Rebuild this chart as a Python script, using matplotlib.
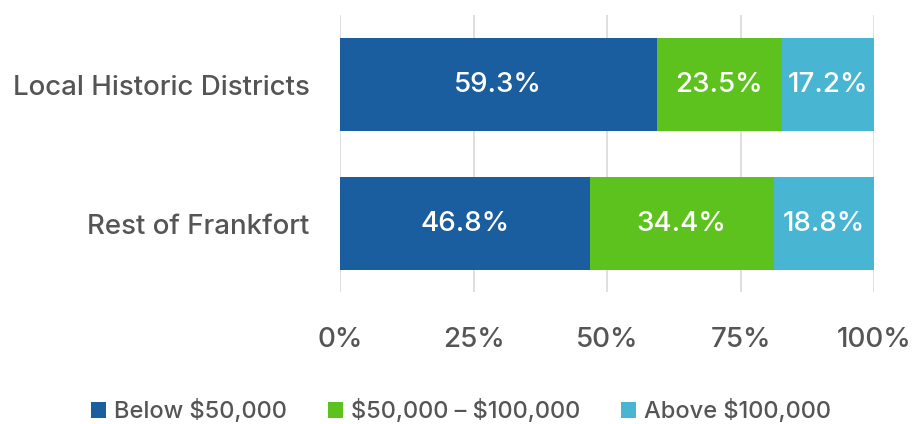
import matplotlib.pyplot as plt
from matplotlib.patches import Patch

categories = ["Local Historic Districts", "Rest of Frankfort"]
series_names = [r"Below \$50,000", r"\$50,000 – \$100,000", r"Above \$100,000"]
below_50k = [59.3, 46.8]
mid_50_100k = [23.5, 34.4]
above_100k = [17.2, 18.8]
x_ticks = [0, 25, 50, 75, 100]
x_tick_labels = ["0%", "25%", "50%", "75%", "100%"]

colors = ["#1B5EA0", "#5EC21E", "#48B6D3"]
text_gray = "#555555"

plt.rcParams["font.family"] = ["Inter", "DejaVu Sans"]
plt.rcParams["font.weight"] = "medium"

fig = plt.figure(figsize=(9.22, 4.24), dpi=100)
ax = fig.add_axes([340 / 922, 1 - 292 / 424, 534 / 922, 277 / 424])

y_pos = list(range(len(categories)))
left = [0] * len(categories)
for values, color in zip([below_50k, mid_50_100k, above_100k], colors):
    bars = ax.barh(y_pos, values, left=left, height=0.667, color=color, zorder=2)
    for bar, v in zip(bars, values):
        ax.text(bar.get_x() + bar.get_width() / 2, bar.get_y() + bar.get_height() / 2,
                f"{v:.1f}%", ha="center", va="center", color="white", fontsize=20)
    left = [l + v for l, v in zip(left, values)]

ax.set_xlim(0, 100)
ax.set_ylim(1.49, -0.5)
ax.set_xticks(x_ticks)
ax.set_xticklabels(x_tick_labels)
ax.set_yticks(y_pos)
ax.set_yticklabels(categories)
ax.tick_params(axis="x", length=0, pad=25, labelsize=20, labelcolor=text_gray)
ax.tick_params(axis="y", length=0, pad=22, labelsize=19.9, labelcolor=text_gray)
ax.grid(axis="x", color="#D9D9D9", linewidth=1.2, zorder=0)
for spine in ax.spines.values():
    spine.set_visible(False)

handles = [Patch(facecolor=c, edgecolor="none") for c in colors]
fig.legend(handles, series_names, loc="center", bbox_to_anchor=(0.5, 1 - 411 / 424),
           ncol=3, frameon=False, fontsize=17, labelcolor=text_gray,
           handlelength=0.65, handleheight=0.65, handletextpad=0.35, columnspacing=1.7)

fig.savefig("out.png", dpi=100)
